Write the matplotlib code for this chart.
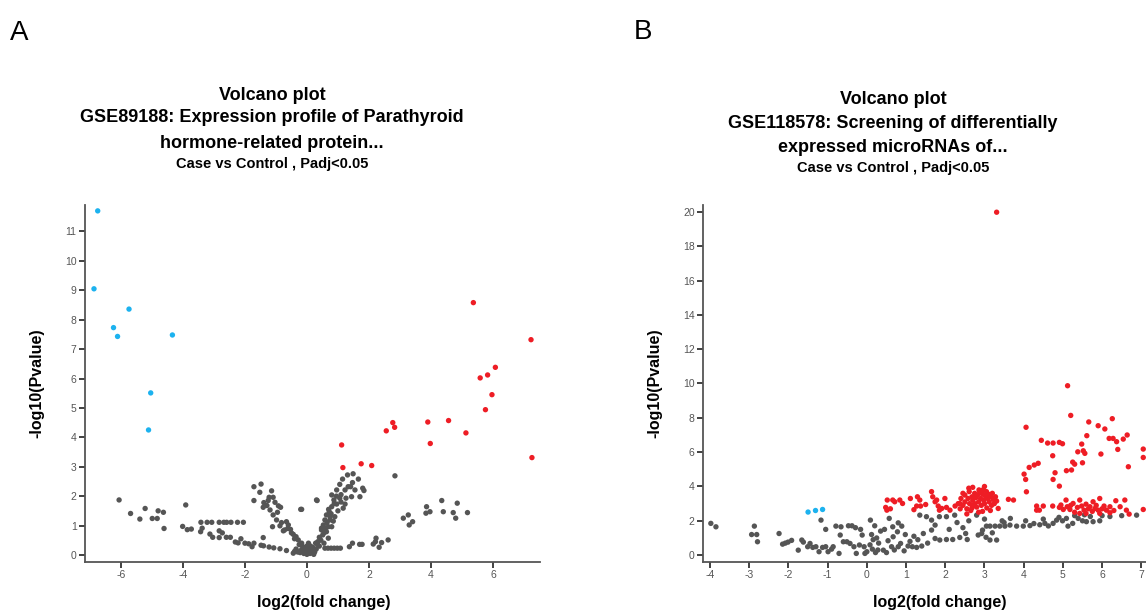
import matplotlib
matplotlib.use("Agg")
import matplotlib.pyplot as plt
import numpy as np

plt.rcParams["font.family"] = ["Liberation Sans", "DejaVu Sans"]
plt.rcParams["axes.unicode_minus"] = False

# ---------------- Panel A data (log2 fold change, -log10 p) ----------------
a_down = [(-6.75, 11.7), (-6.87, 9.05), (-5.74, 8.36), (-6.24, 7.73), (-6.11, 7.43),
          (-4.34, 7.48), (-5.04, 5.51), (-5.11, 4.25)]

a_up = [(5.37, 8.58), (7.23, 7.32), (6.08, 6.38), (5.83, 6.12), (5.59, 6.02), (5.97, 5.45),
        (5.76, 4.94), (2.77, 4.50), (2.83, 4.34), (2.56, 4.22), (3.90, 4.52), (4.57, 4.57),
        (5.13, 4.15), (3.98, 3.79), (1.12, 3.74), (1.16, 2.97), (1.75, 3.10), (2.09, 3.04),
        (7.26, 3.31)]

a_ns = [
    # left tail
    (-6.06, 1.87), (-5.69, 1.41), (-5.39, 1.22), (-5.22, 1.58), (-4.99, 1.24), (-4.83, 1.24),
    (-4.80, 1.50), (-4.63, 1.45), (-4.61, 0.90), (-3.91, 1.70), (-4.01, 0.97), (-3.86, 0.86),
    (-3.73, 0.88), (-3.42, 1.11), (-3.22, 1.11), (-3.07, 1.11), (-2.83, 1.11), (-2.68, 1.11),
    (-2.59, 1.11), (-2.45, 1.11), (-2.24, 1.11), (-2.05, 1.11), (-3.38, 0.91), (-3.43, 0.79),
    (-3.13, 0.71), (-3.04, 0.60), (-2.83, 0.82), (-2.73, 0.75), (-2.83, 0.59), (-2.60, 0.60),
    (-2.47, 0.60), (-2.31, 0.44), (-2.22, 0.41), (-2.13, 0.55), (-2.00, 0.40), (-1.88, 0.38),
    (-1.77, 0.28), (-1.71, 0.40), (-1.48, 0.33), (-1.41, 0.59), (-1.40, 0.31), (-1.22, 0.27),
    (-1.07, 0.24), (-0.87, 0.21), (-0.66, 0.15), (-0.44, 0.06),
    # left arm of the V
    (-1.71, 2.32), (-1.48, 2.41), (-1.52, 2.13), (-1.71, 1.85), (-1.14, 2.18), (-1.22, 1.96),
    (-1.09, 1.96), (-1.39, 1.78), (-1.41, 1.62), (-1.29, 1.68), (-1.03, 1.79), (-1.19, 1.53),
    (-0.92, 1.67), (-0.85, 1.62), (-1.09, 1.36), (-0.98, 1.19), (-1.11, 0.96), (-0.87, 0.99),
    (-0.66, 1.13), (-0.60, 1.02), (-0.76, 0.82), (-0.53, 0.87), (-0.44, 0.70), (-0.35, 0.62),
    (-0.20, 1.55), (-0.28, 0.51), (-0.17, 0.40), (-0.50, 0.75), (-0.40, 0.55), (-0.25, 0.35),
    (-0.15, 0.30), (-0.62, 0.90), (-0.82, 1.10), (-0.95, 1.45), (-1.25, 1.85), (-0.72, 0.85),
    # bottom clump
    (-0.35, 0.20), (-0.30, 0.10), (-0.20, 0.15), (-0.10, 0.05), (0.00, 0.02), (0.05, 0.10),
    (0.10, 0.05), (0.15, 0.15), (-0.05, 0.20), (0.20, 0.25), (0.25, 0.10), (0.30, 0.20),
    (0.00, 0.30), (-0.10, 0.25), (0.08, 0.18), (-0.22, 0.08), (0.12, 0.30), (0.35, 0.35),
    (0.28, 0.40), (-0.40, 0.12), (0.18, 0.08), (0.40, 0.30), (0.05, 0.40), (-0.12, 0.12),
    (0.22, 0.02),
    # right arm
    (0.33, 1.85), (0.47, 0.91), (1.15, 2.58), (1.31, 2.72), (1.49, 2.76), (1.66, 2.58),
    (1.47, 2.46), (1.33, 2.32), (1.06, 2.40), (0.96, 2.21), (1.23, 2.21), (1.41, 2.32),
    (1.55, 2.21), (1.80, 2.27), (1.84, 2.19), (1.71, 1.98), (1.44, 1.98), (1.26, 1.93),
    (1.06, 1.93), (0.87, 1.87), (0.80, 2.04), (0.96, 1.73), (1.23, 1.73), (1.17, 1.59),
    (0.80, 1.64), (0.72, 1.47), (0.63, 1.36), (0.58, 1.19), (0.74, 1.19), (0.53, 1.02),
    (0.69, 0.96), (0.47, 0.85), (0.63, 0.79), (0.80, 0.96), (0.51, 0.68), (0.69, 0.57),
    (0.45, 0.50), (0.55, 0.40), (0.90, 1.30), (1.00, 1.50), (0.85, 1.15), (0.65, 1.10),
    (0.75, 1.30), (0.95, 2.00), (1.10, 2.05), (0.88, 1.75), (0.70, 1.55), (0.60, 0.90),
    (0.40, 0.60), (0.35, 0.45), (1.10, 1.80), (0.55, 0.75), (0.78, 1.40),
    # flat row and right tail
    (0.58, 0.23), (0.68, 0.23), (0.78, 0.23), (0.88, 0.23), (0.98, 0.23), (1.08, 0.23),
    (1.37, 0.28), (1.47, 0.40), (1.70, 0.36), (1.78, 0.36), (2.14, 0.37), (2.23, 0.57),
    (2.41, 0.42), (2.62, 0.51), (2.33, 0.26), (2.21, 0.45), (2.84, 2.69), (-0.17, 1.55),
    (0.31, 1.87), (3.11, 1.25), (3.27, 1.36), (3.30, 1.02), (3.41, 1.13), (3.86, 1.64),
    (3.84, 1.42), (3.97, 1.47), (4.35, 1.85), (4.40, 1.47), (4.72, 1.44), (4.85, 1.76),
    (4.80, 1.25), (5.18, 1.44),
]

# ---------------- Panel B data ----------------
b_down = [(-1.50, 2.51), (-1.31, 2.60), (-1.13, 2.66)]

b_up = [
    (3.31, 19.98), (5.12, 9.87), (5.20, 8.14), (6.26, 7.95), (4.06, 7.45), (5.66, 7.76),
    (5.90, 7.54), (6.07, 7.35), (6.18, 6.80), (6.28, 6.80), (6.37, 6.61), (6.54, 6.76),
    (6.64, 7.00), (7.05, 6.18), (4.45, 6.69), (4.61, 6.53), (4.75, 6.53), (4.91, 6.57),
    (4.99, 6.49), (4.74, 5.79), (5.61, 6.96), (5.48, 6.47), (5.38, 6.02), (5.52, 6.08),
    (5.56, 5.93), (5.97, 5.89), (6.40, 6.16), (5.25, 5.42), (5.30, 5.30), (5.50, 5.38),
    (5.22, 4.96), (5.09, 4.92), (6.67, 5.15), (4.27, 5.25), (4.37, 5.35), (4.14, 5.11),
    (4.01, 4.72), (4.05, 4.41), (4.80, 4.80), (4.75, 4.41), (4.91, 4.02), (4.07, 3.69),
    (7.05, 5.69),
    # band at high fold change
    (4.33, 2.86), (4.40, 2.62), (4.50, 2.86), (4.74, 2.86), (4.91, 2.78), (4.95, 2.92),
    (5.08, 3.21), (5.11, 2.82), (5.18, 2.66), (5.26, 3.01), (5.37, 2.78), (5.43, 3.21),
    (5.48, 2.86), (5.54, 2.62), (5.59, 2.97), (5.69, 2.82), (5.77, 3.11), (5.82, 2.72),
    (5.90, 2.62), (5.94, 3.30), (6.05, 2.86), (6.11, 2.62), (6.20, 2.82), (6.35, 3.17),
    (6.46, 2.82), (6.58, 3.21), (6.62, 2.62), (6.69, 2.39), (7.05, 2.66), (5.43, 2.43),
    (5.59, 2.43), (5.94, 2.43), (6.20, 2.47), (5.01, 2.66), (4.33, 2.62), (5.65, 2.70),
    (5.75, 2.55), (5.30, 2.50), (6.00, 2.70), (5.85, 2.90), (6.30, 2.60), (5.20, 2.90),
    # cluster near 3
    (2.33, 3.00), (2.40, 3.30), (2.45, 2.90), (2.50, 3.50), (2.50, 3.10), (2.55, 2.70),
    (2.58, 3.30), (2.61, 3.70), (2.62, 3.00), (2.65, 2.60), (2.68, 3.40), (2.70, 3.20),
    (2.72, 2.90), (2.75, 3.60), (2.75, 3.00), (2.78, 3.35), (2.80, 2.80), (2.82, 3.50),
    (2.85, 3.10), (2.86, 3.80), (2.88, 3.67), (2.90, 3.30), (2.92, 2.90), (2.95, 3.55),
    (2.97, 3.82), (2.98, 3.20), (3.00, 3.00), (3.02, 3.45), (3.05, 3.70), (3.06, 2.75),
    (3.08, 3.30), (3.10, 3.55), (3.12, 3.10), (3.15, 3.40), (3.18, 2.90), (3.20, 3.60),
    (3.22, 3.25), (3.25, 3.00), (3.28, 3.40), (3.31, 3.15), (3.35, 2.72), (2.60, 3.90),
    (2.70, 3.95), (3.00, 4.00), (2.45, 3.60), (2.55, 2.40), (2.85, 2.50), (3.61, 3.25),
    (3.74, 3.21), (2.68, 2.75), (2.95, 2.55), (3.15, 2.60), (2.38, 2.70),
    # low fold change side
    (0.48, 2.78), (0.51, 2.62), (0.52, 3.21), (0.66, 3.21), (0.71, 3.11), (0.84, 3.21),
    (0.91, 3.01), (1.11, 3.30), (1.29, 3.40), (1.35, 3.21), (1.27, 2.86), (1.37, 2.86),
    (1.65, 3.70), (1.68, 3.40), (1.78, 3.21), (1.82, 2.86), (1.85, 2.62), (1.99, 3.30),
    (2.03, 2.78), (2.12, 2.62), (2.25, 2.86), (2.37, 3.01), (1.74, 3.11), (1.91, 2.72),
    (0.60, 2.70), (1.50, 2.95), (1.20, 2.65),
]

b_ns = [
    (-3.98, 1.85), (-3.85, 1.65), (-2.87, 1.69), (-2.94, 1.20), (-2.81, 1.20), (-2.79, 0.78),
    (-2.24, 1.26), (-2.15, 0.64), (-2.08, 0.70), (-2.01, 0.76), (-1.92, 0.86), (-1.75, 0.29),
    (-1.66, 0.88), (-1.62, 0.76), (-1.51, 0.49), (-1.45, 0.68), (-1.38, 0.45), (-1.30, 0.49),
    (-1.22, 0.20), (-1.17, 2.04), (-1.13, 0.45), (-1.05, 0.49), (-1.05, 1.50), (-0.99, 0.20),
    (-0.90, 0.35), (-0.86, 0.49), (-0.79, 1.69), (-0.71, 0.10), (-0.66, 1.65), (-0.68, 1.17),
    (-0.60, 0.78), (-0.47, 1.71), (-0.38, 1.71), (-0.51, 0.78), (-0.43, 0.68), (-0.29, 1.60),
    (-0.16, 1.50), (-0.33, 0.49), (-0.27, 0.10), (-0.19, 0.59), (-0.12, 1.17), (-0.07, 0.49),
    (0.00, 0.20), (0.09, 2.04), (0.20, 1.71), (0.12, 1.20), (0.16, 0.90), (0.08, 0.60),
    (0.14, 0.35), (0.22, 0.15), (-0.05, 0.10), (0.28, 0.30), (0.30, 0.70), (0.35, 1.40),
    (0.25, 1.00),
    (0.57, 2.14), (0.66, 1.65), (0.80, 1.88), (0.89, 1.69), (0.78, 1.36), (0.67, 1.07),
    (0.54, 0.84), (0.42, 0.29), (0.63, 0.49), (0.80, 0.49), (0.86, 0.68), (1.05, 0.53),
    (1.16, 0.49), (1.27, 0.45), (1.40, 0.53), (1.44, 1.26), (1.35, 2.33), (1.52, 2.24),
    (1.65, 2.04), (1.74, 1.75), (1.85, 2.24), (2.03, 2.24), (2.24, 2.33), (1.65, 1.46),
    (1.74, 0.97), (1.86, 0.88), (2.03, 0.91), (2.19, 0.91), (2.37, 1.03), (2.52, 1.26),
    (2.56, 0.91), (2.80, 2.33), (2.84, 1.17), (2.93, 1.26), (2.95, 1.46), (3.05, 1.69),
    (3.14, 1.69), (3.27, 1.69), (3.39, 1.69), (3.52, 1.69), (3.65, 1.75), (3.14, 0.88),
    (3.31, 0.88), (3.04, 1.04), (3.82, 1.69), (3.99, 1.69), (4.16, 1.72), (4.26, 1.84),
    (3.66, 2.14), (4.41, 1.77), (4.54, 1.85), (4.63, 1.70), (4.75, 1.85), (4.84, 2.04),
    (4.99, 2.00), (5.09, 2.14), (5.13, 1.69), (5.25, 1.85), (5.39, 2.14), (5.50, 2.00),
    (5.60, 1.95), (5.77, 1.95), (5.94, 2.00), (6.88, 2.33),
    (0.45, 1.50), (0.50, 0.15), (0.70, 0.30), (0.95, 0.25), (1.10, 0.80), (1.20, 1.10),
    (0.98, 1.20), (1.30, 0.90), (1.55, 0.70), (2.10, 1.50), (2.30, 1.90), (2.60, 2.00),
    (2.45, 1.60), (3.00, 2.10), (3.45, 2.00), (3.20, 1.30), (3.50, 1.90), (4.05, 2.00),
    (4.50, 2.10), (4.90, 2.20), (5.30, 2.30), (5.55, 2.35), (5.70, 2.25), (6.00, 2.30),
    (6.20, 2.25), (6.50, 2.30),
]

a_xticks = [-6, -4, -2, 0, 2, 4, 6]
a_yticks = list(range(0, 12))
b_xticks = list(range(-4, 8))
b_yticks = list(range(0, 21, 2))

a_title = ["Volcano plot", "GSE89188: Expression profile of Parathyroid",
           "hormone-related protein..."]
b_title = ["Volcano plot", "GSE118578: Screening of differentially",
           "expressed microRNAs of..."]
subtitle = "Case vs Control , Padj<0.05"

RED = "#ee1d25"
BLUE = "#1cb2ef"
GREY = "#555555"
W, H = 1146, 613


def px(x, y):
    return x / W, 1 - y / H


def style_axes(ax, xticks, yticks, xlim, ylim):
    ax.set_xlim(*xlim)
    ax.set_ylim(*ylim)
    ax.set_xticks(xticks)
    ax.set_yticks(yticks)
    for side in ("top", "right"):
        ax.spines[side].set_visible(False)
    for side in ("left", "bottom"):
        ax.spines[side].set_color("#555555")
        ax.spines[side].set_linewidth(1.3)
    ax.tick_params(length=4, width=1.3, color="#333333", labelsize=7.5,
                   labelcolor="#555555", pad=2)


def scatter(ax, pts, color):
    arr = np.array(pts)
    ax.scatter(arr[:, 0], arr[:, 1], s=15, color=color, edgecolors="none",
               zorder=3, clip_on=False)


fig = plt.figure(figsize=(W / 100, H / 100), dpi=100)
fig.patch.set_facecolor("white")

ax_a = fig.add_axes([85 / W, 1 - 562 / H, 455 / W, 357 / H])
ax_b = fig.add_axes([703 / W, 1 - 562 / H, 443 / W, 357 / H])

style_axes(ax_a, a_xticks, a_yticks, (-7.16, 7.52), (-0.24, 11.9))
style_axes(ax_b, b_xticks, b_yticks, (-4.18, 7.12), (-0.4, 20.4))

for ax, groups in ((ax_a, (a_ns, a_down, a_up)), (ax_b, (b_ns, b_down, b_up))):
    ns, down, up = groups
    scatter(ax, ns, GREY)
    scatter(ax, down, BLUE)
    scatter(ax, up, RED)
    ax.set_xlabel("log2(fold change)", fontsize=11.5, fontweight="bold", va="center")
    ax.set_ylabel("-log10(Pvalue)", fontsize=11.5, fontweight="bold", va="center")

ax_a.xaxis.set_label_coords((324 - 85) / 455, (562 - 603) / 357)
ax_a.yaxis.set_label_coords((37 - 85) / 455, 0.5)
ax_b.xaxis.set_label_coords((940 - 703) / 443, (562 - 603) / 357)
ax_b.yaxis.set_label_coords((655 - 703) / 443, 0.5)

# titles
for cx, ys, lines in ((272, (95, 118, 144, 164), a_title),
                      (893, (100, 123, 147, 168), b_title)):
    for y, line in zip(ys[:3], lines):
        fig.text(*px(cx, y), line, ha="center", va="center",
                 fontsize=13, fontweight="bold")
    fig.text(*px(cx, ys[3]), subtitle, ha="center", va="center",
             fontsize=10.5, fontweight="bold")

fig.text(*px(19, 33), "A", ha="center", va="center", fontsize=20)
fig.text(*px(643, 32), "B", ha="center", va="center", fontsize=20)

fig.savefig("out.png", dpi=100, facecolor="white")
